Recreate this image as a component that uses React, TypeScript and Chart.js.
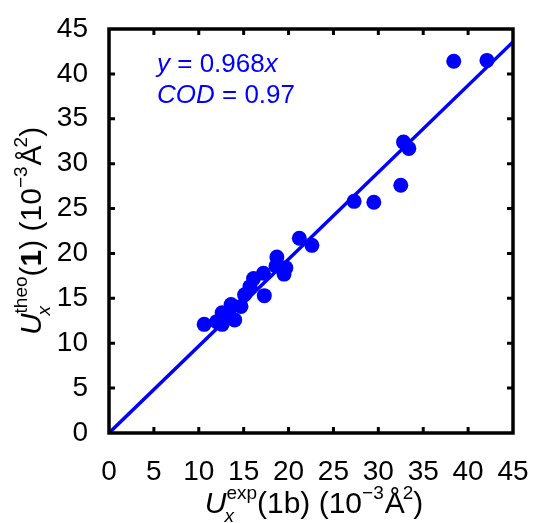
import React, { useEffect, useRef } from "react";
import { Chart, registerables } from "chart.js";

Chart.register(...registerables);

// ---- data ----
const expValues = [38.4, 42.1, 32.8, 33.4, 32.5, 27.3, 29.5, 21.2, 22.6, 18.7, 19.7, 19.5, 18.6, 17.2, 16.1, 17.3, 15.7, 15.1, 14.7, 13.6, 12.6, 14.0, 12.6, 10.6, 12.0, 13.3];
const theoValues = [41.4, 41.5, 32.4, 31.7, 27.6, 25.8, 25.7, 21.7, 20.9, 19.6, 18.4, 17.7, 18.6, 17.8, 17.2, 15.3, 16.3, 15.4, 14.1, 14.3, 13.4, 12.6, 12.1, 12.1, 12.4, 13.4];
const fitSlope = 0.968;
const fitRange = [0, 45];
const axisMin = 0;
const axisMax = 45;
const tickStep = 5;
const fitLabel = ["y", " = 0.968", "x"];
const codLabel = ["COD", " = 0.97"];

const BLUE = "#0000ff";
const FONT = "'Liberation Sans', Arial, sans-serif";

type Run = { t: string; size: number; italic?: boolean; bold?: boolean; dy?: number; stack?: boolean; kern?: number };

const xTitleRuns: Run[] = [
  { t: "U", size: 30, italic: true },
  { t: "exp", size: 19, dy: -14 },
  { t: "x", size: 19, italic: true, dy: 9, stack: true },
  { t: "(1b) (10", size: 30 },
  { t: "\u22123", size: 19, dy: -14 },
  { t: "\u00c5", size: 30, kern: 1 },
  { t: "2", size: 19, dy: -14, kern: -2 },
  { t: ")", size: 30 },
];

const yTitleRuns: Run[] = [
  { t: "U", size: 30, italic: true },
  { t: "theo", size: 19, dy: -14 },
  { t: "x", size: 19, italic: true, dy: 9, stack: true },
  { t: "(", size: 30 },
  { t: "1", size: 30, bold: true },
  { t: ") (10", size: 30 },
  { t: "\u22123", size: 19, dy: -14 },
  { t: "\u00c5", size: 30, kern: 1 },
  { t: "2", size: 19, dy: -14, kern: -2 },
  { t: ")", size: 30 },
];

function fontOf(r: Run) {
  return `${r.italic ? "italic " : ""}${r.bold ? "bold " : ""}${r.size}px ${FONT}`;
}

function layoutRuns(ctx: CanvasRenderingContext2D, runs: Run[]) {
  let prevStart = 0;
  let maxEnd = 0;
  const items: { r: Run; x: number }[] = [];
  for (const r of runs) {
    ctx.font = fontOf(r);
    const w = ctx.measureText(r.t).width;
    const start = r.stack ? prevStart - 2 : maxEnd + (r.kern || 0);
    items.push({ r, x: start });
    prevStart = start;
    maxEnd = Math.max(maxEnd, start + w);
  }
  return { items, width: maxEnd };
}

function drawRuns(ctx: CanvasRenderingContext2D, runs: Run[], cx: number, baseline: number) {
  const { items, width } = layoutRuns(ctx, runs);
  const x0 = cx - width / 2;
  ctx.textBaseline = "alphabetic";
  ctx.textAlign = "left";
  for (const it of items) {
    ctx.font = fontOf(it.r);
    ctx.fillText(it.r.t, x0 + it.x, baseline + (it.r.dy || 0));
  }
}

const overlayPlugin = {
  id: "overlay",
  afterDraw(chart: any) {
    const { ctx, chartArea: a, scales } = chart;
    const xs = scales.x;
    const ys = scales.y;
    ctx.save();
    ctx.strokeStyle = "#000";
    ctx.lineWidth = 3.5;
    ctx.strokeRect(a.left, a.top, a.right - a.left, a.bottom - a.top);
    ctx.lineWidth = 3;
    const tl = 6;
    for (let v = axisMin + tickStep; v < axisMax; v += tickStep) {
      const px = xs.getPixelForValue(v);
      ctx.beginPath();
      ctx.moveTo(px, a.bottom);
      ctx.lineTo(px, a.bottom - tl);
      ctx.moveTo(px, a.top);
      ctx.lineTo(px, a.top + tl);
      ctx.stroke();
      const py = ys.getPixelForValue(v);
      ctx.beginPath();
      ctx.moveTo(a.left, py);
      ctx.lineTo(a.left + tl, py);
      ctx.moveTo(a.right, py);
      ctx.lineTo(a.right - tl, py);
      ctx.stroke();
    }
    // annotation
    ctx.fillStyle = BLUE;
    ctx.textBaseline = "alphabetic";
    ctx.textAlign = "left";
    const annX = a.left + 48;
    let xx = annX;
    const f1 = [true, false, true];
    fitLabel.forEach((s, i) => {
      ctx.font = `${f1[i] ? "italic " : ""}26px ${FONT}`;
      ctx.fillText(s, xx, 72);
      xx += ctx.measureText(s).width;
    });
    xx = annX;
    const f2 = [true, false];
    codLabel.forEach((s, i) => {
      ctx.font = `${f2[i] ? "italic " : ""}26px ${FONT}`;
      ctx.fillText(s, xx, 103);
      xx += ctx.measureText(s).width;
    });
    // titles
    ctx.fillStyle = "#000";
    drawRuns(ctx, xTitleRuns, (a.left + a.right) / 2 + 3, 513);
    ctx.save();
    ctx.translate(41, (a.top + a.bottom) / 2);
    ctx.rotate(-Math.PI / 2);
    drawRuns(ctx, yTitleRuns, 0, 0);
    ctx.restore();
    ctx.restore();
  },
};

export default function App() {
  const ref = useRef<HTMLCanvasElement>(null);
  useEffect(() => {
    if (!ref.current) return;
    const points = expValues.map((x, i) => ({ x, y: theoValues[i] }));
    const fitLine = fitRange.map((x) => ({ x, y: fitSlope * x }));
    const tickFont = { size: 28, family: FONT };
    const chart = new Chart(ref.current, {
      type: "scatter",
      data: {
        datasets: [
          {
            data: fitLine,
            showLine: true,
            borderColor: BLUE,
            borderWidth: 3.5,
            pointRadius: 0,
            backgroundColor: BLUE,
          },
          {
            data: points,
            pointRadius: 7.5,
            pointBackgroundColor: BLUE,
            pointBorderColor: BLUE,
            pointBorderWidth: 0,
          },
        ],
      },
      options: {
        animation: false,
        responsive: true,
        maintainAspectRatio: false,
        layout: { padding: { top: 29, right: 20, left: 0, bottom: 0 } },
        plugins: { legend: { display: false }, tooltip: { enabled: false } },
        scales: {
          x: {
            type: "linear",
            min: axisMin,
            max: axisMax,
            grid: { display: false },
            border: { display: false },
            ticks: { stepSize: tickStep, color: "#000", font: tickFont, padding: 14, maxRotation: 0 },
            afterFit: (s: any) => {
              s.height = 90;
              s.paddingLeft = 0;
              s.paddingRight = 0;
            },
          },
          y: {
            type: "linear",
            min: axisMin,
            max: axisMax,
            grid: { display: false },
            border: { display: false },
            ticks: { stepSize: tickStep, color: "#000", font: tickFont, padding: 13 },
            afterFit: (s: any) => {
              s.width = 109;
              s.paddingTop = 0;
              s.paddingBottom = 0;
            },
          },
        },
      },
      plugins: [overlayPlugin],
    } as any);
    return () => chart.destroy();
  }, []);
  return (
    <div style={{ position: "fixed", left: 0, top: 0, width: 533, height: 523, background: "#fff" }}>
      <canvas ref={ref} />
    </div>
  );
}
